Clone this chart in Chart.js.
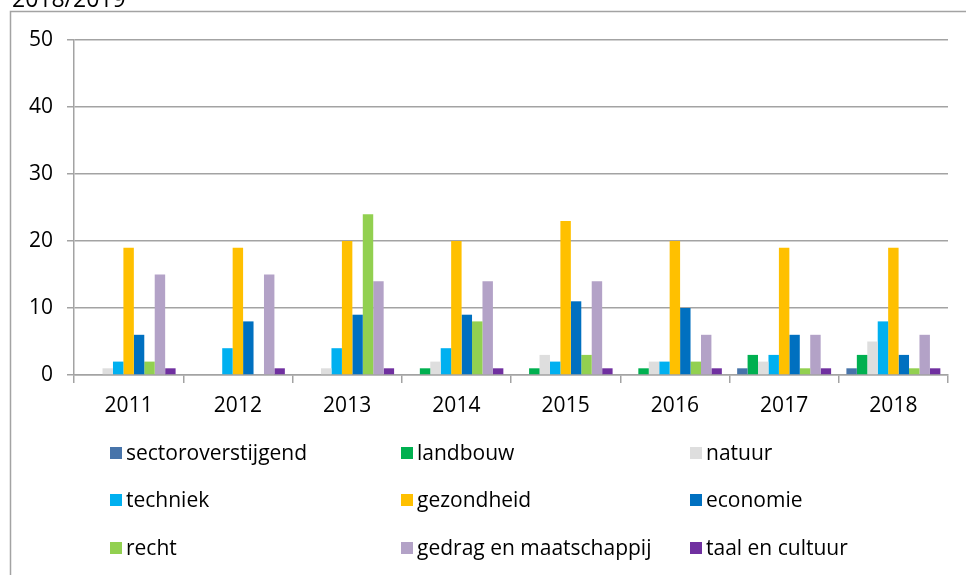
<!DOCTYPE html>
<html>
<head>
<meta charset="utf-8">
<script src="https://cdn.jsdelivr.net/npm/chart.js@4.4.1/dist/chart.umd.min.js"></script>
<style>
  html, body { margin: 0; padding: 0; background: #fff; overflow: hidden; }
  #wrap { position: relative; width: 966px; height: 575px; }
</style>
</head>
<body>
<div id="wrap"><canvas id="chart" width="966" height="575"></canvas></div>
<script>
// Aantallen per sector per jaar
const years = ['2011', '2012', '2013', '2014', '2015', '2016', '2017', '2018'];
const sectoroverstijgend = [0, 0, 0, 0, 0, 0, 1, 1];
const landbouw = [0, 0, 0, 1, 1, 1, 3, 3];
const natuur = [1, 0, 1, 2, 3, 2, 2, 5];
const techniek = [2, 4, 4, 4, 2, 2, 3, 8];
const gezondheid = [19, 19, 20, 20, 23, 20, 19, 19];
const economie = [6, 8, 9, 9, 11, 10, 6, 3];
const recht = [2, 0, 24, 8, 3, 2, 1, 1];
const gedragEnMaatschappij = [15, 15, 14, 14, 14, 6, 6, 6];
const taalEnCultuur = [1, 1, 1, 1, 1, 1, 1, 1];
const yTicks = [0, 10, 20, 30, 40, 50];

const FONT = 'Open Sans';
const GRID = '#a3a3a3';

const series = [
  { label: 'sectoroverstijgend', data: sectoroverstijgend, color: '#4774aa' },
  { label: 'landbouw', data: landbouw, color: '#00b050' },
  { label: 'natuur', data: natuur, color: '#dedede' },
  { label: 'techniek', data: techniek, color: '#00b0f0' },
  { label: 'gezondheid', data: gezondheid, color: '#ffc000' },
  { label: 'economie', data: economie, color: '#0070c0' },
  { label: 'recht', data: recht, color: '#92d050' },
  { label: 'gedrag en maatschappij', data: gedragEnMaatschappij, color: '#b3a2c7' },
  { label: 'taal en cultuur', data: taalEnCultuur, color: '#7030a0' }
];

// frame, title and the 3-column legend under the plot
const decorations = {
  id: 'decorations',
  beforeDraw(chart) {
    const ctx = chart.ctx;
    ctx.save();
    ctx.strokeStyle = GRID;
    ctx.lineWidth = 1.5;
    ctx.strokeRect(10.5, 11.5, 1200, 1000);
    ctx.restore();
  },
  afterDraw(chart) {
    const ctx = chart.ctx;
    ctx.save();
    ctx.fillStyle = '#000';
    ctx.font = `23px "${FONT}"`;
    ctx.textBaseline = 'alphabetic';
    ctx.textAlign = 'left';
    ctx.fillText('2018/2019', 12, 7);

    const colX = [110, 401, 690];
    const rowY = [453, 500, 548];
    ctx.font = `21px "${FONT}"`;
    ctx.textBaseline = 'middle';
    chart.data.datasets.forEach((ds, i) => {
      const x = colX[i % 3];
      const y = rowY[Math.floor(i / 3)];
      ctx.fillStyle = ds.backgroundColor;
      ctx.fillRect(x, y - 6, 12, 12);
      ctx.fillStyle = '#000';
      ctx.fillText(ds.label, x + 16, y + 1);
    });
    ctx.restore();
  }
};

new Chart(document.getElementById('chart'), {
  type: 'bar',
  data: {
    labels: years,
    datasets: series.map(s => ({
      label: s.label,
      data: s.data,
      backgroundColor: s.color,
      borderWidth: 0,
      categoryPercentage: 0.86,
      barPercentage: 1
    }))
  },
  options: {
    responsive: false,
    animation: false,
    devicePixelRatio: 1,
    layout: { padding: { left: 0, top: 40, right: 18, bottom: 0 } },
    plugins: {
      legend: { display: false },
      title: { display: false },
      tooltip: { enabled: false }
    },
    scales: {
      x: {
        grid: {
          offset: true,
          drawOnChartArea: false,
          drawTicks: true,
          tickLength: 8,
          color: GRID,
          lineWidth: 1.5
        },
        border: { color: GRID, width: 1.5 },
        ticks: { color: '#000', font: { family: FONT, size: 21 }, padding: 10, maxRotation: 0 },
        afterFit: s => { s.height = 200; }
      },
      y: {
        min: 0,
        max: 50,
        afterBuildTicks: s => { s.ticks = yTicks.map(v => ({ value: v })); },
        grid: { color: GRID, lineWidth: 1.5, tickLength: 7 },
        border: { color: GRID, width: 1.5 },
        ticks: { color: '#000', font: { family: FONT, size: 21 }, padding: 14 },
        afterFit: s => { s.width = 74; }
      }
    }
  },
  plugins: [decorations]
});
</script>
</body>
</html>
